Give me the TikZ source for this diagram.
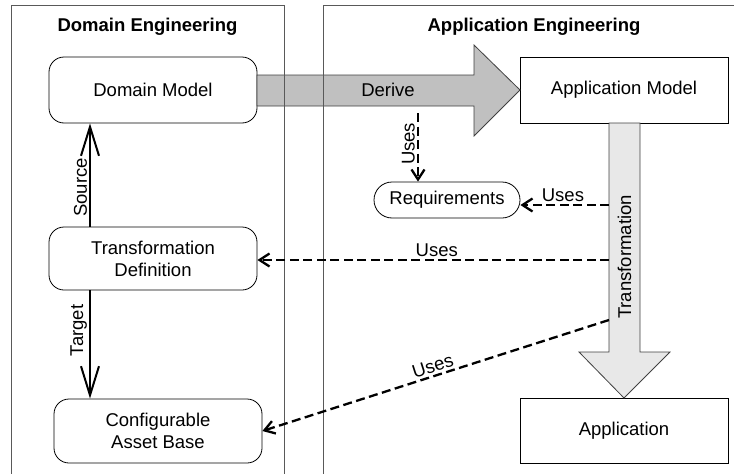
\documentclass[tikz,border=0pt]{standalone}
\usepackage{fontspec}
\setmainfont{Liberation Sans}
\usepackage{xcolor}
\usetikzlibrary{arrows.meta}

\definecolor{derivegray}{HTML}{C0C0C0}
\definecolor{transgray}{HTML}{E8E8E8}

\begin{document}
\begin{tikzpicture}[
        x = 1pt, y = -1pt, % pixel grid, y grows downwards
        > = {Straight Barb[length=29pt,width=18pt]}, % big open head
        font = \fontsize{18.5}{22}\selectfont,
        line width = 2pt
    ]

    \tikzstyle{model}=[
        draw = black,
        line width = 0.8pt,
        minimum width = 208pt,
        rounded corners = 15pt,
        align = center
    ]
    \tikzstyle{artifact}=[
        draw = black,
        line width = 0.8pt,
        minimum width = 208pt,
        minimum height = 66pt
    ]
    \tikzstyle{uses}=[
        line width = 2.3pt,
        dash pattern = on 9pt off 4.5pt,
        -{Straight Barb[length=10pt,width=13pt]}
    ]
    \tikzstyle{lbl}=[inner sep = 2pt]
    \tikzstyle{bigarrow}=[draw = black!75, line width = 0.8pt]
    \tikzstyle{lane}=[draw = black!65, line width = 1pt]

    \useasboundingbox (0,0) rectangle (734,474);

    % swimlanes
    \node[font=\fontsize{18.5}{22}\selectfont\bfseries] (domtitle) at (147.5,27) {Domain Engineering};
    \node[font=\fontsize{18.5}{22}\selectfont\bfseries] (apptitle) at (534,27) {Application Engineering};

    \node[model, minimum height = 66pt] (dm) at (153,90) {Domain Model};
    \node[model, minimum height = 63pt] (td) at (153,258.5) {Transformation\\Definition};
    \node[model, minimum height = 64pt] (cab) at (158,431) {Configurable\\Asset Base};
    \node[artifact] (am) at (624,90) {Application Model};
    \node[artifact, minimum height = 65pt] (app) at (624,430.5) {Application};
    \node[model, minimum width = 146pt, minimum height = 36pt, rounded corners = 18pt] (req) at (447,200) {Requirements};

    % block arrows
    \draw[bigarrow, fill = derivegray] (257,75) -- (474,75) -- (474,45) -- (520,90)
        -- (474,136) -- (474,106) -- (257,106) -- cycle;
    \node (derive) at (388,90) {Derive};
    \draw[bigarrow, fill = transgray] (609,123) -- (609,352) -- (579,352) -- (624,398)
        -- (670,352) -- (640,352) -- (640,123) -- cycle;
    \node[rotate = 90] (trans) at (624.5,257) {Transformation};

    \draw[lane] (11,474) -- (11,5) -- (284,5) -- (284,474);
    \draw[lane] (323,474) -- (323,5) -- (734,5);

    \coordinate (derivefoot) at (418,113);
    \coordinate (treq) at (609,205);
    \coordinate (ttd) at (609,260);
    \coordinate (tcab) at (609,320);

    \path[->] ([xshift=-63pt]td.north) edge node[lbl, pos=0.38, rotate=90, anchor=south] {Source} ([xshift=-63pt]dm.south);
    \path[->] ([xshift=-63pt]td.south) edge node[lbl, pos=0.37, rotate=90, anchor=south] {Target} ([xshift=-68pt]cab.north);

    \path[uses] (derivefoot) edge node[lbl, pos=0.45, rotate=90, anchor=south] {Uses} (derivefoot |- req.north);
    \path[uses] (treq) edge node[lbl, pos=0.52, above] {Uses} (treq -| req.east);
    \path[uses] (ttd) edge node[lbl, pos=0.49, above] {Uses} (ttd -| td.east);
    \path[uses] (tcab) edge node[lbl, pos=0.5, above, sloped] {Uses} (cab.east);
\end{tikzpicture}
\end{document}
